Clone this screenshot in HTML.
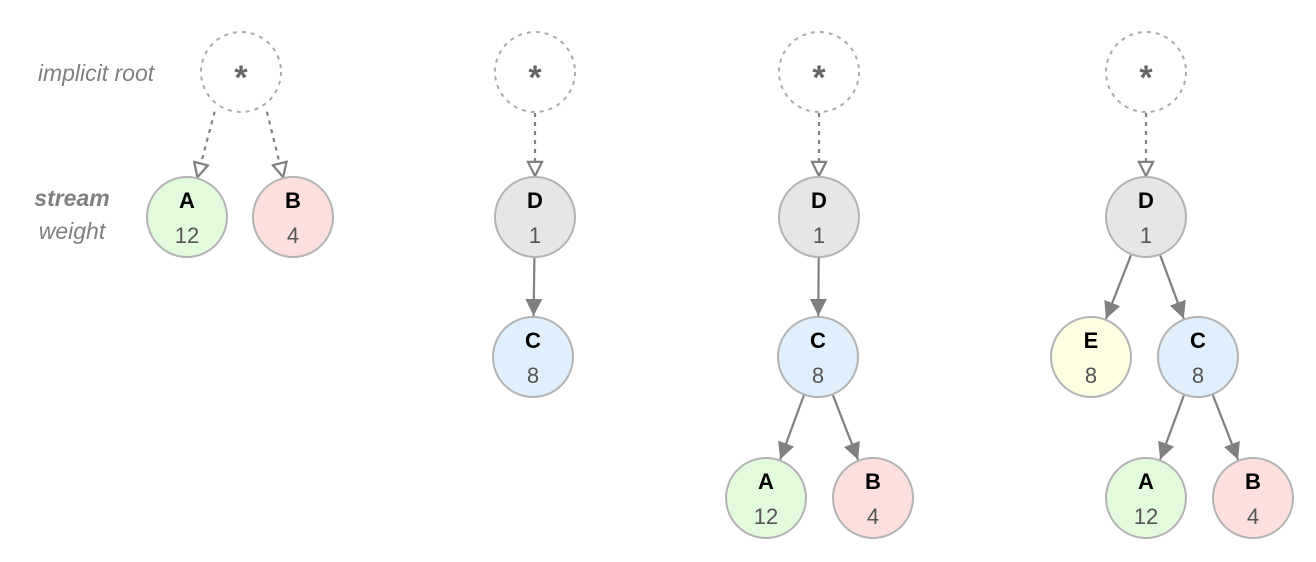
<!DOCTYPE html>
<html><head><meta charset="utf-8"><style>
html,body{margin:0;padding:0;background:#fff;width:1316px;height:562px;overflow:hidden}
svg{display:block}
text{font-family:"Liberation Sans",Arial,sans-serif}
</style></head><body>
<svg id="s" width="1316" height="562" viewBox="0 0 1316 562" xmlns="http://www.w3.org/2000/svg">
<defs>
<marker id="ah" viewBox="0 0 10 10" refX="10" refY="5" markerWidth="17" markerHeight="17" markerUnits="userSpaceOnUse" orient="auto"><path d="M0,0 L10,5 L0,10 z" fill="#808080"/></marker>
<marker id="oh" viewBox="0 0 12 12" refX="11" refY="6" markerWidth="17" markerHeight="17" markerUnits="userSpaceOnUse" orient="auto"><path d="M1,1 L11,6 L1,11 z" fill="#fff" stroke="#808080" stroke-width="1.6"/></marker>
</defs>
<text x="96" y="81" font-size="23" font-style="italic" fill="#808080" text-anchor="middle">implicit root</text>
<text x="72" y="206" font-size="23" font-style="italic" font-weight="bold" fill="#808080" text-anchor="middle">stream</text>
<text x="72" y="239" font-size="23" font-style="italic" fill="#808080" text-anchor="middle">weight</text>
<g id="g"></g>
</svg>
<script>
var g=document.getElementById('g'),h='',R=40;
function roots(x,y){h+='<circle cx="'+x+'" cy="'+y+'" r="'+R+'" fill="none" stroke="#aaa" stroke-width="2" stroke-dasharray="4,5"/><text x="'+x+'" y="'+(y+17)+'" font-size="34" font-weight="bold" fill="#666" text-anchor="middle">*</text>';}
function node(x,y,l,n,c){h+='<circle cx="'+x+'" cy="'+y+'" r="'+R+'" fill="'+c+'" stroke="#b3b3b3" stroke-width="2"/><text x="'+x+'" y="'+(y-9)+'" font-size="22" font-weight="bold" fill="#000" text-anchor="middle">'+l+'</text><text x="'+x+'" y="'+(y+26)+'" font-size="22" fill="#555" text-anchor="middle">'+n+'</text>';}
function edge(x1,y1,x2,y2,dash){var dx=x2-x1,dy=y2-y1,L=Math.hypot(dx,dy),ux=dx/L,uy=dy/L;
var sx=x1+ux*(R+1),sy=y1+uy*(R+1),ex=x2-ux*(R+1),ey=y2-uy*(R+1);
h+='<line x1="'+sx+'" y1="'+sy+'" x2="'+ex+'" y2="'+ey+'" stroke="#808080" stroke-width="2.2" '+(dash?'stroke-dasharray="4,5" marker-end="url(#oh)"':'marker-end="url(#ah)"')+'/>';}
var G='#e2fbdc',P='#fde0de',Gy='#e6e6e6',B='#dff0fc',Y='#fefee2';
// tree 1
edge(225,72,187,217,1);edge(257,72,293,217,1);
roots(241,72);node(187,217,'A',12,G);node(293,217,'B',4,P);
// tree 2
edge(535,72,535,217,1);edge(535,217,533,357);
roots(535,72);node(535,217,'D',1,Gy);node(533,357,'C',8,B);
// tree 3
edge(819,72,819,217,1);edge(819,217,818,357);edge(818,357,766,498);edge(818,357,873,498);
roots(819,72);node(819,217,'D',1,Gy);node(818,357,'C',8,B);node(766,498,'A',12,G);node(873,498,'B',4,P);
// tree 4
edge(1146,72,1146,217,1);edge(1146,217,1091,357);edge(1146,217,1198,357);edge(1198,357,1146,498);edge(1198,357,1253,498);
roots(1146,72);node(1146,217,'D',1,Gy);node(1091,357,'E',8,Y);node(1198,357,'C',8,B);node(1146,498,'A',12,G);node(1253,498,'B',4,P);
g.innerHTML=h;
</script>
</body></html>
